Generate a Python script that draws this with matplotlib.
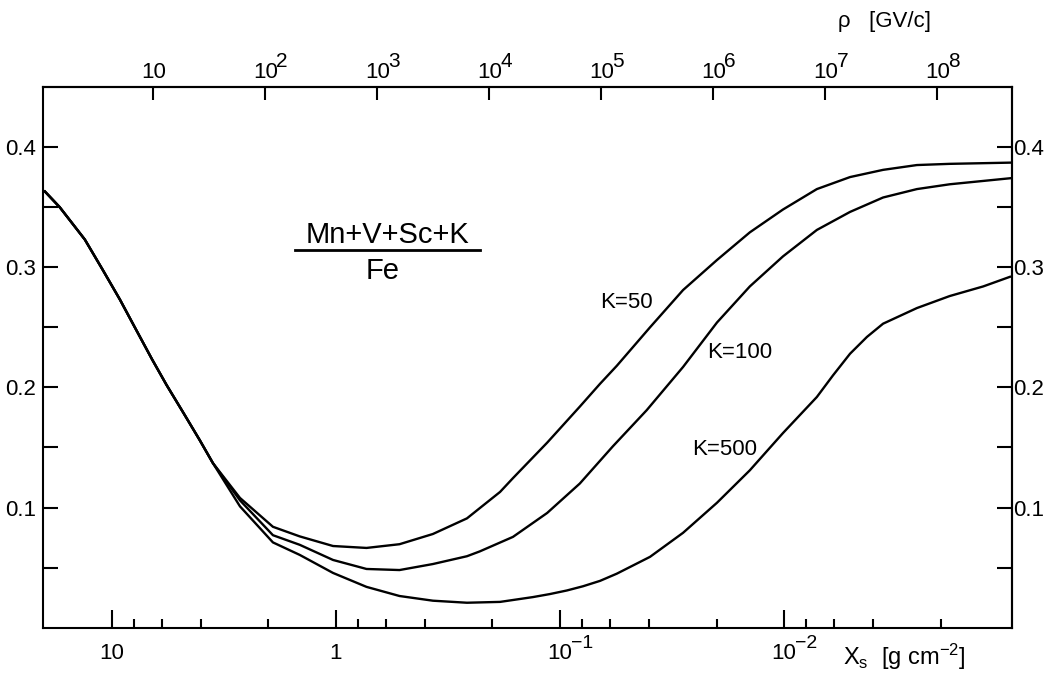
import numpy as np
import matplotlib
matplotlib.use('Agg')
import matplotlib.pyplot as plt
from matplotlib.lines import Line2D
from matplotlib.ticker import NullLocator

plt.rcParams['font.family'] = ['Liberation Sans', 'DejaVu Sans']
plt.rcParams['mathtext.fontset'] = 'custom'
plt.rcParams['mathtext.rm'] = 'Liberation Sans'
plt.rcParams['mathtext.it'] = 'Liberation Sans'
plt.rcParams['mathtext.bf'] = 'Liberation Sans:bold'

# tramo comun de las tres curvas (gramaje alto)
xs_common = [19.9, 17.1, 13.2, 11.0, 9.2, 7.9, 6.6, 5.7, 4.8, 4.05, 3.54]
ratio_common = [0.363, 0.350, 0.323, 0.298, 0.273, 0.250, 0.223, 0.202, 0.179, 0.156, 0.137]

# K = 50
xs_k50 = [2.68, 1.91, 1.45, 1.03, 0.73, 0.52, 0.369, 0.260, 0.228, 0.185, 0.162, 0.114,
          0.0815, 0.0662, 0.0557, 0.0396, 0.0282, 0.0199, 0.0142, 0.0101, 0.00713,
          0.00507, 0.00361, 0.00255, 0.00182, 0.00098]
ratio_k50 = [0.108, 0.084, 0.076, 0.068, 0.0664, 0.0695, 0.078, 0.091, 0.0995, 0.113, 0.1245, 0.154,
             0.184, 0.203, 0.218, 0.250, 0.281, 0.306, 0.329, 0.348, 0.365,
             0.375, 0.381, 0.385, 0.386, 0.387]

# K = 100
xs_k100 = [2.68, 1.91, 1.45, 1.03, 0.73, 0.52, 0.369, 0.260, 0.228, 0.162, 0.114, 0.0815,
           0.058, 0.041, 0.0282, 0.0199, 0.0142, 0.0101, 0.00713, 0.00507, 0.00361,
           0.00255, 0.00182, 0.00098]
ratio_k100 = [0.106, 0.077, 0.069, 0.0564, 0.0489, 0.048, 0.053, 0.0595, 0.0635, 0.0756, 0.0955, 0.120,
              0.151, 0.181, 0.217, 0.254, 0.284, 0.309, 0.331, 0.346, 0.358,
              0.365, 0.369, 0.374]

# K = 500
xs_k500 = [2.68, 1.91, 1.45, 1.03, 0.73, 0.52, 0.369, 0.260, 0.185, 0.132, 0.111, 0.0931,
           0.0789, 0.0662, 0.0557, 0.0396, 0.0282, 0.0199, 0.0142, 0.0101,
           0.00713, 0.00604, 0.00507, 0.00426, 0.00361, 0.00255, 0.00182, 0.00129, 0.00098]
ratio_k500 = [0.101, 0.071, 0.0606, 0.0456, 0.034, 0.0264, 0.0225, 0.0208, 0.0215, 0.0255, 0.028, 0.031,
              0.0345, 0.039, 0.045, 0.059, 0.079, 0.104, 0.131, 0.162,
              0.192, 0.210, 0.228, 0.242, 0.253, 0.266, 0.276, 0.284, 0.292]

# ejes
x_major = [10, 1, 0.1, 0.01]
x_exps = ['', '', '−1', '−2']
x_minor = [8, 6, 4, 2, 0.8, 0.6, 0.4, 0.2, 0.08, 0.06, 0.04, 0.02,
           0.008, 0.006, 0.004, 0.002]
y_major = [0.1, 0.2, 0.3, 0.4]
y_major_labels = ['0.1', '0.2', '0.3', '0.4']
y_minor = [0.05, 0.15, 0.25, 0.35]
p_ticks = [1e1, 1e2, 1e3, 1e4, 1e5, 1e6, 1e7, 1e8]
p_exps = ['', '2', '3', '4', '5', '6', '7', '8']

C_RIG = 10 ** 2.63  # rigidez ~ C / Xs^2


def xs_a_p(x):
    x = np.asarray(x, dtype=float)
    with np.errstate(divide='ignore', invalid='ignore'):
        return C_RIG / x ** 2


def p_a_xs(p):
    p = np.asarray(p, dtype=float)
    with np.errstate(divide='ignore', invalid='ignore'):
        return np.sqrt(C_RIG / p)


fig = plt.figure(figsize=(10.48, 6.76), dpi=100)
ax = fig.add_axes([0.041, 0.0714, 0.9246, 0.80])

lw = 1.7
for xs, ratio in [(xs_k50, ratio_k50), (xs_k100, ratio_k100), (xs_k500, ratio_k500)]:
    ax.plot(xs_common + xs, ratio_common + ratio, color='black', lw=lw)

ax.set_xscale('log')
ax.set_xlim(20.3, 0.00096)
ax.set_ylim(0, 0.45)

ax.set_xticks(x_major, labels=['10', '1', '10', '10'])
ax.set_xticks(x_minor, labels=[''] * len(x_minor), minor=True)
ax.set_yticks(y_major, labels=y_major_labels)
ax.set_yticks(y_minor, labels=[''] * len(y_minor), minor=True)

ax.tick_params(axis='x', which='major', direction='in', length=13, width=1.5,
               labelsize=16, pad=11, top=False)
ax.tick_params(axis='x', which='minor', direction='in', length=6.5, width=1.5, top=False)
ax.tick_params(axis='y', which='both', direction='in', length=11, width=1.5,
               labelsize=16, pad=5, right=False)
for sp in ax.spines.values():
    sp.set_linewidth(1.5)

# exponentes del eje inferior
for xv, e in zip(x_major, x_exps):
    if e:
        ax.annotate(e, xy=(xv, 0), xycoords=('data', 'axes fraction'),
                    xytext=(8, -14.5), textcoords='offset points',
                    fontsize=14, ha='left', va='baseline')

# eje derecho
ax_r = ax.secondary_yaxis('right')
ax_r.set_yticks(y_major, labels=y_major_labels)
ax_r.set_yticks(y_minor, labels=[''] * len(y_minor), minor=True)
ax_r.tick_params(axis='y', which='both', direction='in', length=11, width=1.5,
                 labelsize=16, pad=1)
ax_r.spines['right'].set_linewidth(1.5)

# eje superior: rigidez
ax_t = ax.secondary_xaxis('top', functions=(xs_a_p, p_a_xs))
ax_t.set_xticks(p_ticks, labels=['10'] * len(p_ticks))
ax_t.xaxis.set_minor_locator(NullLocator())
ax_t.tick_params(axis='x', which='major', direction='in', length=9, width=1.5,
                 labelsize=16, pad=3)
ax_t.spines['top'].set_linewidth(1.5)

for pv, e in zip(p_ticks, p_exps):
    if e:
        ax.annotate(e, xy=(p_a_xs(pv), 1), xycoords=('data', 'axes fraction'),
                    xytext=(8, 14.5), textcoords='offset points',
                    fontsize=15, ha='left', va='baseline')

# etiquetas de curvas
ax.text(0.066, 0.271, 'K=50', fontsize=16, ha='left', va='center')
ax.text(0.0221, 0.229, 'K=100', fontsize=16, ha='left', va='center')
ax.text(0.0258, 0.148, 'K=500', fontsize=16, ha='left', va='center')

# cociente
ax.text(0.356, 0.727, 'Mn+V+Sc+K', fontsize=21, ha='center', va='center',
        transform=ax.transAxes)
ax.add_line(Line2D([0.26, 0.451], [0.6985, 0.6985], color='black', lw=2,
                   transform=ax.transAxes, clip_on=False))
ax.text(0.351, 0.66, 'Fe', fontsize=21, ha='center', va='center',
        transform=ax.transAxes)

fig.text(843 / 1048, 1 - 657 / 676, r'$\mathregular{X_s}$  [g cm$^{-2}$]',
         fontsize=17, va='center', ha='left')
fig.text(838 / 1048, 1 - 22 / 676, 'ρ   [GV/c]', fontsize=16, va='center', ha='left')

fig.savefig('out.png', dpi=100)
